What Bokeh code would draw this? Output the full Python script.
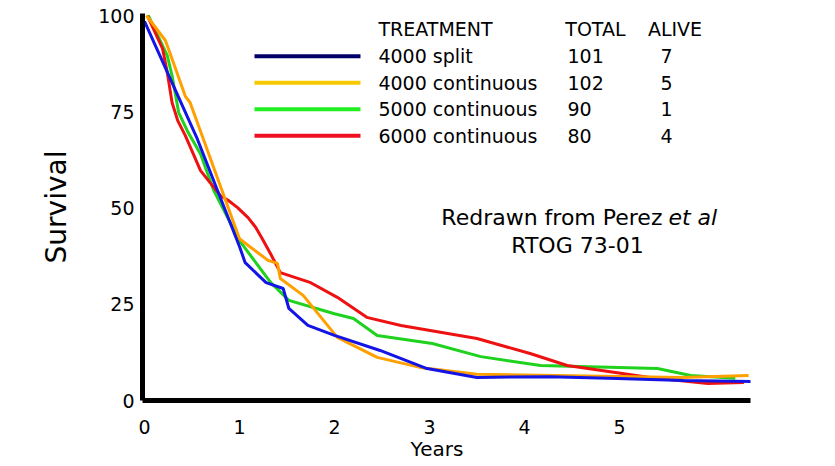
from bokeh.plotting import figure
from bokeh.models import Label, Range1d, FixedTicker
from bokeh.embed import file_html
from bokeh.resources import INLINE

# ---- data ----
blue_t = [0, 0.55, 1.0, 1.06, 1.28, 1.46, 1.52, 1.72, 2.0, 2.48, 2.96, 3.5, 4.27, 4.98, 5.67, 6.4]
blue_s = [98.5, 68.3, 40.0, 35.8, 30.6, 29.1, 23.9, 19.5, 16.9, 13.0, 8.4, 6.0, 6.2, 5.7, 5.2, 4.9]

orange_t = [0.02, 0.22, 0.25, 0.43, 0.48, 1.0, 1.3, 1.4, 1.43, 1.67, 2.03, 2.45, 2.9, 3.5, 5.65, 6.36]
orange_s = [100, 93.5, 91.5, 79, 77.4, 42, 36.4, 35.6, 31.7, 27.3, 16.4, 11.2, 8.6, 6.8, 6.0, 6.5]

green_t = [0.04, 0.24, 0.29, 0.36, 0.46, 0.59, 0.73, 1.0, 1.33, 1.52, 1.99, 2.2, 2.45, 3.03, 3.54,
           4.17, 5.4, 5.75, 6.22]
green_s = [100, 89.6, 84.4, 74.8, 69.6, 64, 54.5, 41.5, 30.6, 26, 22.6, 21.3, 16.9, 14.8, 11.4,
           9.1, 8.3, 6.5, 5.8]

red_t = [0.03, 0.19, 0.24, 0.29, 0.35, 0.43, 0.59, 0.69, 0.80, 0.88, 0.98, 1.09, 1.17, 1.24, 1.33,
         1.43, 1.75, 2.03, 2.34, 2.7, 3.5, 4.06, 4.45, 5.32, 5.93, 6.31]
red_s = [100, 91.4, 85.2, 77.4, 72.7, 68.8, 59.7, 56.6, 53.2, 52, 50.1, 47.5, 45, 42, 38,
         33.2, 30.6, 26.8, 21.6, 19.5, 16.1, 12.2, 9.1, 6.0, 4.4, 4.7]

treatments = ["4000 split", "4000 continuous", "5000 continuous", "6000 continuous"]
totals = ["101", "102", "90", "80"]
alive = ["7", "5", "1", "4"]
x_ticks = [0, 1, 2, 3, 4, 5]
y_ticks = [0, 25, 50, 75, 100]

# ---- styles ----
FONT = "DejaVu Sans"
curve_colors = {"blue": "#1414e6", "orange": "#ffa000", "green": "#1ed21e", "red": "#ee1111"}
legend_colors = ["#000066", "#f5c800", "#22ee22", "#ee1122"]

p = figure(width=832, height=464, output_backend="svg", toolbar_location=None,
           x_range=Range1d(-0.021, 6.38), y_range=Range1d(0, 100.52),
           min_border_left=142, min_border_right=82, min_border_top=13, min_border_bottom=64)
p.outline_line_color = None
p.grid.visible = False
p.background_fill_color = "white"

for ax in (p.xaxis, p.yaxis):
    ax.axis_line_width = 5
    ax.axis_line_color = "black"
    ax.major_tick_out = 0
    ax.major_tick_in = 0
    ax.minor_tick_out = 0
    ax.minor_tick_in = 0
    ax.major_label_text_font = FONT
    ax.major_label_text_font_size = "19px"
    ax.major_label_text_color = "black"
    ax.axis_label_text_font = FONT
    ax.axis_label_text_font_style = "normal"
    ax.axis_label_text_color = "black"
p.xaxis.ticker = FixedTicker(ticks=x_ticks)
p.yaxis.ticker = FixedTicker(ticks=y_ticks)
p.xaxis.major_label_standoff = 19
p.yaxis.major_label_standoff = 8
p.xaxis.axis_label = "Years\u00a0\u00a0\u00a0"
p.xaxis.axis_label_text_font_size = "20px"
p.xaxis.axis_label_standoff = 0
p.yaxis.axis_label = "Survival"
p.yaxis.axis_label_text_font_size = "28px"
p.yaxis.axis_label_standoff = 22

# ---- curves ----
p.line(green_t, green_s, line_color=curve_colors["green"], line_width=3)
p.line(red_t, red_s, line_color=curve_colors["red"], line_width=3)
p.line(orange_t, orange_s, line_color=curve_colors["orange"], line_width=3)
p.line(blue_t, blue_s, line_color=curve_colors["blue"], line_width=3)

# ---- legend table ----
row0_y = 89.4
row_step = 6.88
header_y = 96.6
seg_x0, seg_x1 = 1.158, 2.274
col_name, col_total, col_alive = 2.463, 4.453, 5.495
legend_font = "19px"

def add_label(x, y, text, size, align="left", style="normal"):
    p.add_layout(Label(x=x, y=y, text=text, text_font=FONT, text_font_size=size,
                       text_align=align, text_baseline="middle", text_color="black",
                       text_font_style=style))

add_label(col_name, header_y, "TREATMENT", legend_font)
add_label(4.43, header_y, "TOTAL", legend_font)
add_label(5.30, header_y, "ALIVE", legend_font)

for i, (name, tot, alv) in enumerate(zip(treatments, totals, alive)):
    y = row0_y - i * row_step
    p.segment(x0=seg_x0, y0=y, x1=seg_x1, y1=y, line_color=legend_colors[i], line_width=4)
    add_label(col_name, y, name, legend_font)
    add_label(col_total, y, tot, legend_font)
    add_label(col_alive, y, alv, legend_font, align="center")

# ---- credit ----
add_label(5.453, 47.5, "Redrawn from Perez", "22px", align="right")
add_label(5.516, 47.5, "et al", "22px", align="left", style="italic")
add_label(4.558, 40.3, "RTOG 73-01", "22px", align="center")

open("out.html", "w").write(file_html(p, INLINE))
